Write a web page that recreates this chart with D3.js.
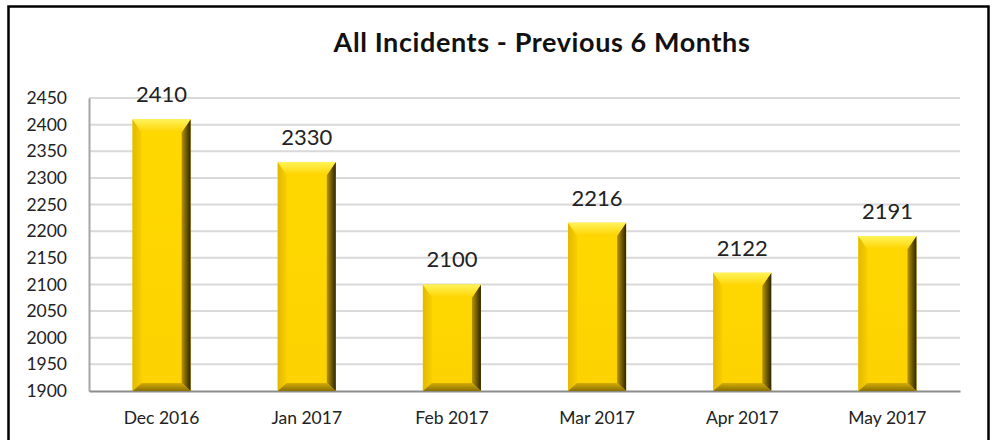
<!DOCTYPE html>
<meta charset="utf-8">
<style>
    body { margin: 0; background: #fff; }
    svg { display: block; font-family: Lato, "Open Sans", sans-serif; }
</style>
<svg width="999" height="440"></svg>
<script src="https://cdn.jsdelivr.net/npm/d3@7"></script>
<script>
    var months = ["Dec 2016", "Jan 2017", "Feb 2017", "Mar 2017", "Apr 2017", "May 2017"];
    var incidents = [2410, 2330, 2100, 2216, 2122, 2191];
    var yTicks = [1900, 1950, 2000, 2050, 2100, 2150, 2200, 2250, 2300, 2350, 2400, 2450];
    var title = "All Incidents - Previous 6 Months";

    var svg = d3.select("svg");
    var plotLeft = 89, plotRight = 960, plotTop = 98, plotBottom = 391;

    // frame
    svg.append("rect")
        .attr("x", 8.5).attr("y", 6.5)
        .attr("width", 980).attr("height", 450)
        .attr("fill", "#fff").attr("stroke", "#000").attr("stroke-width", 2.5);

    svg.append("text")
        .attr("x", 542).attr("y", 52)
        .attr("text-anchor", "middle")
        .attr("font-size", 27).attr("font-weight", "bold")
        .attr("letter-spacing", 0.6)
        .attr("fill", "#111")
        .text(title);

    var x = d3.scaleBand().domain(months).range([plotLeft, plotRight])
        .paddingInner(0.6).paddingOuter(0.3);
    var y = d3.scaleLinear().domain([1900, 2450]).range([plotBottom, plotTop]);

    // gridlines
    svg.append("g").selectAll("line")
        .data(yTicks.filter(function (d) { return d > 1900; }))
        .enter().append("line")
        .attr("x1", plotLeft).attr("x2", plotRight)
        .attr("y1", function (d) { return y(d); })
        .attr("y2", function (d) { return y(d); })
        .attr("stroke", "#d9d9d9").attr("stroke-width", 2);

    // y axis
    var yAxis = svg.append("g")
        .attr("transform", "translate(" + plotLeft + ",0)")
        .call(d3.axisLeft(y).tickValues(yTicks).tickSize(0).tickPadding(22).tickFormat(d3.format("d")));
    yAxis.select(".domain").attr("stroke", "#a6a6a6").attr("stroke-width", 2);
    yAxis.selectAll("text").attr("font-size", 17.5).attr("fill", "#222")
        .attr("font-family", "Lato, sans-serif");

    // x axis
    var xAxis = svg.append("g")
        .attr("transform", "translate(0," + plotBottom + ")")
        .call(d3.axisBottom(x).tickSize(0).tickPadding(21));
    xAxis.select(".domain").attr("stroke", "#8c8c8c").attr("stroke-width", 2);
    xAxis.selectAll("text").attr("font-size", 17.5).attr("fill", "#222")
        .attr("font-family", "Lato, sans-serif");

    // gradients for bevels
    var defs = svg.append("defs");
    function grad(id, x2, y2, c1, c2) {
        var g = defs.append("linearGradient").attr("id", id)
            .attr("x1", 0).attr("y1", 0).attr("x2", x2).attr("y2", y2);
        g.append("stop").attr("offset", 0).attr("stop-color", c1);
        g.append("stop").attr("offset", 1).attr("stop-color", c2);
    }
    grad("gTop", 0, 1, "#fff35a", "#ffd400");
    grad("gLeft", 1, 0, "#e3b800", "#f7cf00");
    grad("gRight", 1, 0, "#b89500", "#2e2500");
    grad("gBottom", 0, 1, "#d4ad00", "#8a6f00");
    grad("gFace", 0, 1, "#ffd800", "#fcd200");

    var s = 9, t = 13, b = 8;
    var bars = svg.append("g").selectAll("g")
        .data(incidents)
        .enter().append("g");

    function pts(arr) { return arr.map(function (p) { return p.join(","); }).join(" "); }

    bars.each(function (d, i) {
        var g = d3.select(this);
        var x0 = x(months[i]), x1 = x0 + x.bandwidth();
        var y0 = y(d), y1 = y(1900);
        g.append("rect").attr("x", x0).attr("y", y0)
            .attr("width", x1 - x0).attr("height", y1 - y0)
            .attr("fill", "url(#gFace)");
        g.append("polygon").attr("fill", "url(#gLeft)")
            .attr("points", pts([[x0, y0], [x0 + s, y0 + t], [x0 + s, y1 - b], [x0, y1]]));
        g.append("polygon").attr("fill", "url(#gRight)")
            .attr("points", pts([[x1 - s, y0 + t], [x1, y0], [x1, y1], [x1 - s, y1 - b]]));
        g.append("polygon").attr("fill", "url(#gBottom)")
            .attr("points", pts([[x0, y1], [x0 + s, y1 - b], [x1 - s, y1 - b], [x1, y1]]));
        g.append("polygon").attr("fill", "url(#gTop)")
            .attr("points", pts([[x0, y0], [x1, y0], [x1 - s, y0 + t], [x0 + s, y0 + t]]));
    });

    // value labels
    svg.append("g").selectAll("text")
        .data(incidents)
        .enter().append("text")
        .attr("x", function (d, i) { return x(months[i]) + x.bandwidth() / 2; })
        .attr("y", function (d) { return y(d) - 17; })
        .attr("text-anchor", "middle")
        .attr("font-size", 22)
        .attr("fill", "#222")
        .text(function (d) { return d; });
</script>
